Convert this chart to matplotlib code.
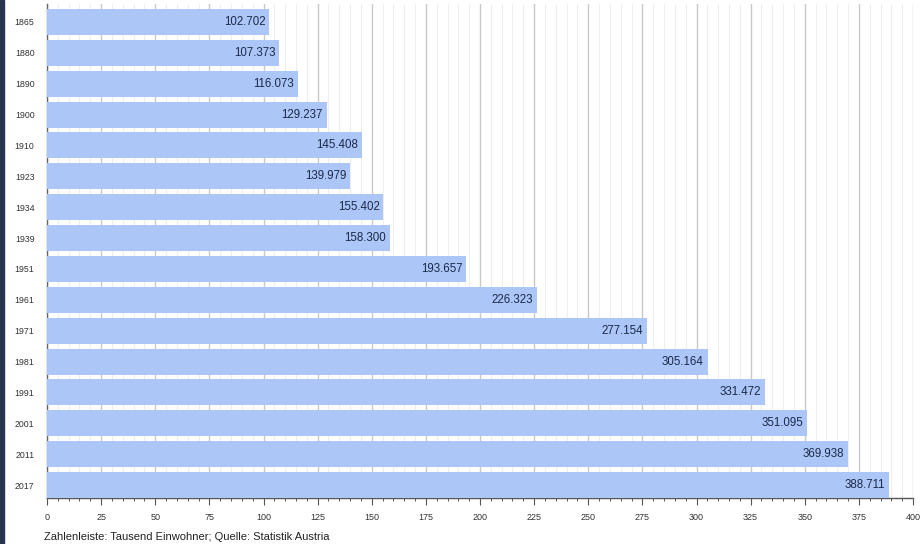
import matplotlib.pyplot as plt
import matplotlib.patches as mpatches
from matplotlib.ticker import MultipleLocator

years = ["1865", "1880", "1890", "1900", "1910", "1923", "1934", "1939", "1951",
         "1961", "1971", "1981", "1991", "2001", "2011", "2017"]
values = [102.702, 107.373, 116.073, 129.237, 145.408, 139.979, 155.402, 158.300,
          193.657, 226.323, 277.154, 305.164, 331.472, 351.095, 369.938, 388.711]
value_labels = ["102.702", "107.373", "116.073", "129.237", "145.408", "139.979",
                "155.402", "158.300", "193.657", "226.323", "277.154", "305.164",
                "331.472", "351.095", "369.938", "388.711"]
caption = "Zahlenleiste: Tausend Einwohner; Quelle: Statistik Austria"

plt.rcParams['font.family'] = ['Liberation Sans', 'DejaVu Sans']

fig = plt.figure(figsize=(9.22, 5.44), dpi=100)
fig.patch.set_facecolor('white')
ax = fig.add_axes([47 / 922, 1 - 498 / 544, (913 - 47) / 922, 494 / 544])

bar_color = '#adc6f8'
ypos = list(range(len(years)))
ax.barh(ypos, values, height=0.84, color=bar_color, zorder=3)

for y, v, lab in zip(ypos, values, value_labels):
    ax.text(v - 1.8, y, lab, ha='right', va='center', fontsize=8.3,
            color='#1b2a48', zorder=4)

ax.set_xlim(0, 400)
ax.set_ylim(15.42, -0.58)
ax.set_yticks(ypos)
ax.set_yticklabels(years, fontsize=6.3, color='#333333')
ax.tick_params(axis='y', length=0, pad=9)

ax.xaxis.set_major_locator(MultipleLocator(25))
ax.xaxis.set_minor_locator(MultipleLocator(5))
ax.tick_params(axis='x', which='major', length=5, width=0.8, color='#555555',
               labelsize=6.5, labelcolor='#333333', pad=6)
ax.tick_params(axis='x', which='minor', length=2.5, width=0.7, color='#555555')
ax.set_xticklabels([str(int(t)) for t in ax.get_xticks()])

ax.grid(axis='x', which='major', color='#c9c9c9', linewidth=1.0, zorder=0)
ax.grid(axis='x', which='minor', color='#eeeeee', linewidth=0.8, zorder=0)
ax.set_axisbelow(True)

for s in ['top', 'right']:
    ax.spines[s].set_visible(False)
ax.spines['left'].set_color('#666666')
ax.spines['left'].set_linewidth(1.0)
ax.spines['bottom'].set_color('#555555')
ax.spines['bottom'].set_linewidth(1.0)

fig.text(44 / 922, 1 - 537 / 544, caption, fontsize=8, color='#222222',
         ha='left', va='center')

# dark strip at left edge (screen capture border)
fig.patches.append(mpatches.Rectangle((0, 0), 4 / 922, 1, transform=fig.transFigure,
                                      color='#2a3550', zorder=10))

fig.savefig('out.png', dpi=100)
